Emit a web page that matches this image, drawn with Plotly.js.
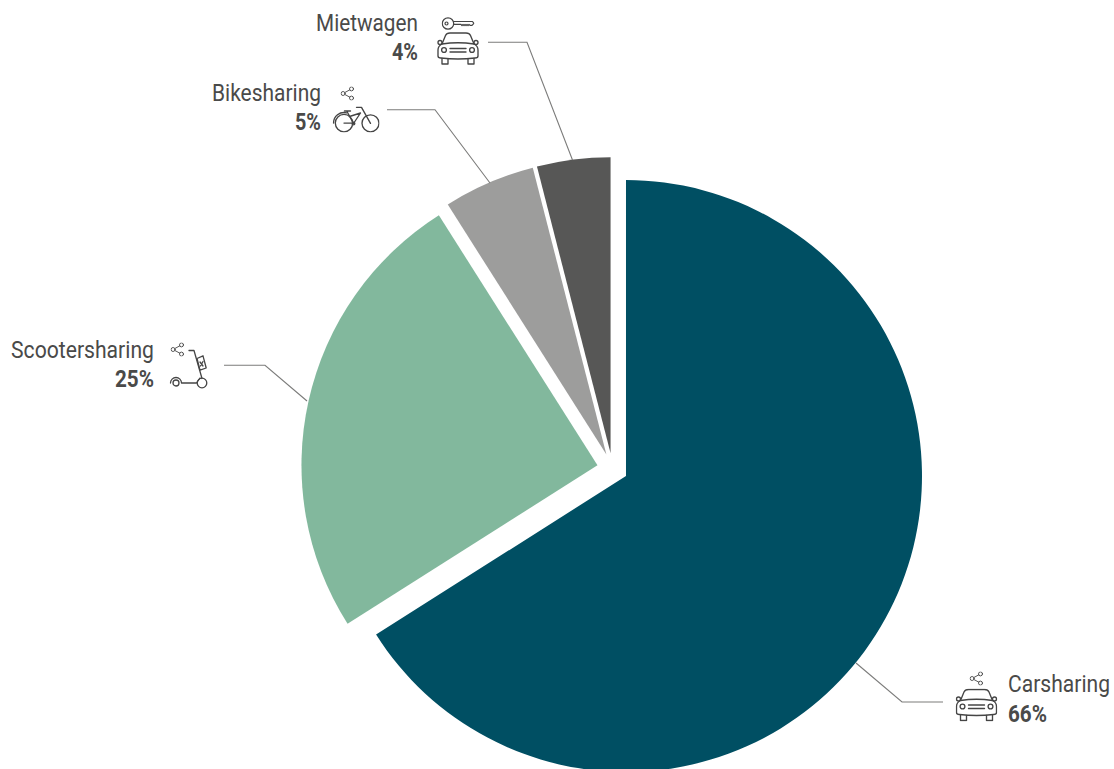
<!DOCTYPE html>
<html><head><meta charset="utf-8">
<script src="https://cdn.plot.ly/plotly-3.0.1.min.js"></script>
<style>html,body{margin:0;padding:0;background:#fff;overflow:hidden;width:1114px;height:769px}#c{width:1114px;height:790px}</style>
</head><body><div id="c"></div>
<script>
const categories=["Carsharing","Scootersharing","Bikesharing","Mietwagen"];
const shares=[66,25,5,4];
const colors=["#004f63","#82b89d","#9d9d9c","#575756"];
const W=1114,H=790;
const X=p=>p/W, Y=p=>1-p/H;
const stroke='#454545';
const svg=(w,h,body,sw)=>'data:image/svg+xml;utf8,'+encodeURIComponent(`<svg xmlns="http://www.w3.org/2000/svg" width="${w*4}" height="${h*4}" viewBox="0 0 ${w} ${h}"><g fill="none" stroke="${stroke}" stroke-width="${sw||1.35}" stroke-linecap="round" stroke-linejoin="round">${body}</g></svg>`);
const carBody=`<path d="M5 12 L8.5 3.5 Q9.5 1 13 1 H29 Q32.5 1 33.5 3.5 L37 12 Q41 14 41 18 V24 Q41 26 38 26 Q21 28 4 26 Q1 26 1 24 V18 Q1 14 5 12 Z"/><path d="M5 12 Q21 9.5 37 12"/><circle cx="3" cy="10.5" r="2"/><circle cx="39" cy="10.5" r="2"/><circle cx="7" cy="18" r="2.4"/><circle cx="35" cy="18" r="2.4"/><path d="M13 16.5H29M13 20H29"/><path d="M5 26.5V32H11V27M31 27V32H37V26.5"/>`;
const car=svg(42,33,carBody);
const share=svg(14,14,`<circle cx="2.6" cy="7" r="2"/><circle cx="11" cy="2.4" r="2"/><circle cx="11" cy="11.6" r="2"/><path d="M4.4 6 L9.2 3.4M4.4 8 L9.2 10.6"/>`,0.9);
const key=svg(33,13,`<circle cx="6.5" cy="6.5" r="5.7"/><circle cx="5" cy="6.5" r="1.5"/><path d="M12 4.5H31L32.4 6.3L30.5 8.4H28.5L27.5 7.4L26.5 8.6L25.5 7.4L24.5 8.6L23.5 7.4L22.5 8.6L21.5 7.4L20.5 8.6L19.5 7.4H12"/>`,1.2);
const bike=svg(47,27,`<circle cx="11.5" cy="17.6" r="8.7"/><path d="M1 17.5 A10.5 10.5 0 0 1 14 7.3"/><circle cx="38" cy="17.8" r="8.5"/><path d="M14.5 6 L21 18 L28 7.5 M17 11 L28 7.5 M11.5 17.6 H21 M12 5.5H18 M38 17.8 L29 1.8 H24"/><circle cx="21" cy="18" r="1.3"/>`,1.35);
const scooter=svg(40,40,`<circle cx="33" cy="34" r="4.8"/><circle cx="7" cy="34" r="3"/><path d="M1.5 34 A5.5 5.5 0 0 1 12.5 34 H27.5 L31 29 M20 1.5 H25 L33 29.5"/><path d="M28 9.5 L34 6.8 L37.2 19 L31 21.2 Z"/><path d="M31 13L34 17M34 12.5L31.5 17"/>`,1.3);
function im(src,x,y,w,h){return {source:src,xref:'paper',yref:'paper',x:X(x),y:Y(y),sizex:w/W,sizey:h/H,xanchor:'left',yanchor:'top',sizing:'stretch',layer:'above'};}
const images=[
 im(key,441.5,17,33,13),im(car,437,32,42,33),
 im(share,340.5,86.5,14,14),im(bike,332.5,105.5,47,27),
 im(share,170.5,342.5,14,14),im(scooter,169,349,40,40),
 im(share,969.5,671.5,14,14),im(car,955.5,688.5,42,33)
];
const leaders=[
 [[488,42.3],[527,42.3],[572.5,160]],
 [[387,109.7],[435,109.7],[490,183]],
 [[224,365.3],[265,365.3],[307,401]],
 [[943,702],[902,702],[856,663]]
];
const shapes=leaders.map(p=>({type:'path',xref:'paper',yref:'paper',layer:'above',
 path:p.map((q,i)=>(i?'L':'M')+X(q[0])+' '+Y(q[1])).join(' '),line:{color:'#7c7c7b',width:1.1}}));
const nameBox=[[1008,1110,684],[11,154,351],[212,321,94],[316,418,23]];
const pctBox=[[1008,1047,714],[115,154,379.5],[295,321,123],[392,418,52]];
const annotations=[],boxes=[];
const font={family:'Roboto',size:23,color:'#4a4a49'};
function add(text,b){
 annotations.push({text,xref:'paper',yref:'paper',x:X(b[0]),y:Y(b[2]),xanchor:'left',yanchor:'middle',showarrow:false,borderpad:0,font});
 boxes.push(b);
}
categories.forEach((c,i)=>{add(c,nameBox[i]);add('<b>'+shares[i]+'%</b>',pctBox[i]);});
Plotly.newPlot('c',[{type:'pie',labels:categories,values:shares,sort:false,direction:'clockwise',rotation:0,
 pull:0.052,marker:{colors:colors,line:{width:0}},textinfo:'none',hoverinfo:'label+percent',
 domain:{x:[301.1/W,923.9/W],y:[(H-780)/H,(H-157.2)/H]}}],
 {width:W,height:H,margin:{l:0,r:0,t:0,b:0},showlegend:false,paper_bgcolor:'#fff',images,shapes,annotations},
 {displayModeBar:false,staticPlot:true}).then(gd=>{
  // Roboto Condensed is not installed: narrow the real text to the reference widths.
  const root=gd.getBoundingClientRect();
  gd.querySelectorAll('.annotation-text').forEach((t,i)=>{
   const b=boxes[i];
   const r=t.getBoundingClientRect(), lx=t.getBBox().x;
   const sx=(b[1]-b[0])/r.width;
   const tx=(b[0]-(r.left-root.left)+lx)-sx*lx;
   t.setAttribute('transform',`translate(${tx},0) scale(${sx},1)`);
  });
 });
</script></body></html>
